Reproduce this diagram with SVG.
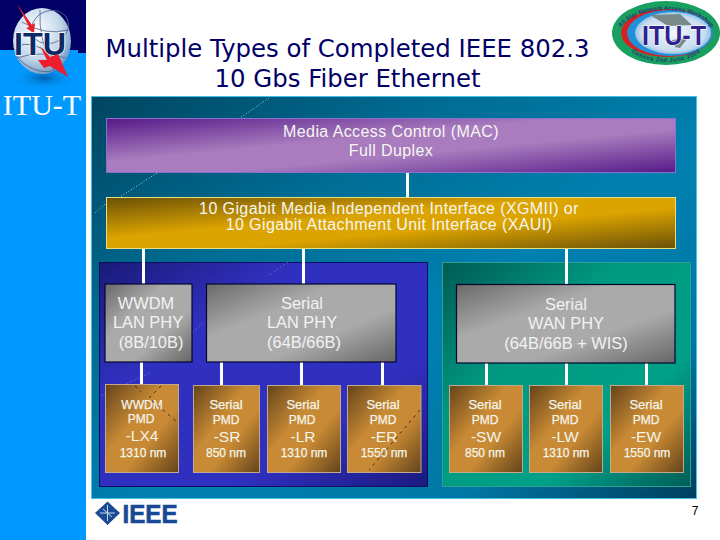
<svg xmlns="http://www.w3.org/2000/svg" width="720" height="540" viewBox="0 0 720 540">
<defs>
<linearGradient id="gPanel" x1="0" y1="0" x2="1" y2="1"><stop offset="0" stop-color="#004560"/><stop offset="0.3" stop-color="#006d94"/><stop offset="0.55" stop-color="#0080b0"/><stop offset="0.8" stop-color="#0078a6"/><stop offset="1" stop-color="#003e5c"/></linearGradient>
<linearGradient id="gMac" x1="0" y1="0" x2="1" y2="1"><stop offset="0" stop-color="#551a88"/><stop offset="0.4" stop-color="#a87cbe"/><stop offset="0.6" stop-color="#a87cbe"/><stop offset="1" stop-color="#551a88"/></linearGradient>
<linearGradient id="gXg" x1="0" y1="0" x2="1" y2="1"><stop offset="0" stop-color="#6a5008"/><stop offset="0.4" stop-color="#dca400"/><stop offset="0.6" stop-color="#dca400"/><stop offset="1" stop-color="#6a5008"/></linearGradient>
<linearGradient id="gBlue" x1="0" y1="0" x2="1" y2="1"><stop offset="0" stop-color="#1a1a78"/><stop offset="0.3" stop-color="#3030c0"/><stop offset="0.7" stop-color="#3030c0"/><stop offset="1" stop-color="#1a1a80"/></linearGradient>
<linearGradient id="gGreen" x1="0" y1="0" x2="1" y2="1"><stop offset="0" stop-color="#005a55"/><stop offset="0.35" stop-color="#009880"/><stop offset="0.7" stop-color="#00a088"/><stop offset="1" stop-color="#005e58"/></linearGradient>
<linearGradient id="gGrey" x1="0" y1="0" x2="1" y2="1"><stop offset="0" stop-color="#6a6a6a"/><stop offset="0.35" stop-color="#aaaaaa"/><stop offset="0.65" stop-color="#aaaaaa"/><stop offset="1" stop-color="#666666"/></linearGradient>
<linearGradient id="gPmd" x1="0" y1="0" x2="1" y2="1"><stop offset="0" stop-color="#64431a"/><stop offset="0.4" stop-color="#c88a34"/><stop offset="0.62" stop-color="#c88a34"/><stop offset="1" stop-color="#64431a"/></linearGradient>
<radialGradient id="gGlobe" cx="0.4" cy="0.35" r="0.7"><stop offset="0" stop-color="#ffffff"/><stop offset="0.6" stop-color="#c4d8ec"/><stop offset="1" stop-color="#6f94bd"/></radialGradient>
<radialGradient id="gShadow" cx="0.5" cy="0.5" r="0.5"><stop offset="0" stop-color="#00508c" stop-opacity="0.75"/><stop offset="1" stop-color="#0099ff" stop-opacity="0"/></radialGradient>
<radialGradient id="gIn" cx="0.5" cy="0.5" r="0.6"><stop offset="0" stop-color="#f0f6fc"/><stop offset="0.7" stop-color="#c8dcf0"/><stop offset="1" stop-color="#4a9ed8"/></radialGradient>
<path id="arcTop" d="M 618 37 A 48 27 0 0 1 714 37"/>
<path id="arcBot" d="M 622 36 A 44 26 0 0 0 710 36"/>
</defs>
<style>
text{font-family:"Liberation Sans",Arial,sans-serif;fill:#f4f4ea;text-anchor:middle}
.title{font-family:"DejaVu Sans",sans-serif;font-size:24.400px;fill:#000066}
.h{font-size:16px;letter-spacing:.4px;fill:#f6f6f2}
.phy{font-size:16.400px;fill:#f2f2f2}
.pa{font-size:13px;stroke:#f4f4ea;stroke-width:.25}
.pw{font-size:12px;stroke:#f4f4ea;stroke-width:.25}
.pb{font-size:15.500px}
.pc{font-size:12px;stroke:#f4f4ea;stroke-width:.25}
.pmd{fill:url(#gPmd);stroke:#c4a88e;stroke-width:1}
.grey{fill:url(#gGrey);stroke:#050530;stroke-width:1.2}
.link{stroke:#fff;stroke-width:3;fill:none}
.dots{stroke:#d8eef8;stroke-width:.8;stroke-dasharray:1 2;fill:none}
.dk{stroke:#301030;stroke-width:.8;stroke-dasharray:3 4;fill:none}
</style>
<rect width="720" height="540" fill="#ffffff"/>
<g id="sidebar">
<rect x="0" y="0" width="86" height="540" fill="#0099ff"/>
<rect x="0" y="0" width="86" height="50" fill="#000066"/>
<rect x="78" y="50" width="8" height="3" fill="#000066"/>
<ellipse cx="44" cy="78" rx="32" ry="12" fill="url(#gShadow)"/>
<g id="itu-logo">
<ellipse cx="42" cy="41" rx="29" ry="33" fill="url(#gGlobe)"/>
<g fill="none" stroke="#50688c" stroke-width=".8"><ellipse cx="50" cy="27" rx="19" ry="16" transform="rotate(-25 50 27)"/><ellipse cx="36" cy="58" rx="22" ry="11" transform="rotate(25 36 58)"/><path d="M22 22Q45 36 68 30M40 10Q38 40 55 72M17 58Q40 50 66 58"/></g>
<path d="M17 4L32 25L35 23L34 33L26 28L29 27Z" fill="#e8202c"/>
<text x="40" y="55" style="font-weight:700;font-size:32px;fill:#0b2a66;stroke:#ffffff;stroke-width:1.500;paint-order:stroke" textLength="52" lengthAdjust="spacingAndGlyphs">ITU</text>
<path d="M40 46L50 57L58 54L68 77L50 66L44 68L38 60L47 60Z" fill="#ee1c2c"/>
</g>
<text x="42" y="115" style="font-family:'Liberation Serif',serif;font-size:30px;fill:#ffffff">ITU-T</text>
</g>
<g id="title">
<text class="title" x="347.500" y="57">Multiple Types of Completed IEEE 802.3</text>
<text class="title" x="347.500" y="87">10 Gbs Fiber Ethernet</text>
</g>
<g id="badge">
<ellipse cx="666" cy="33" rx="54" ry="32" fill="#18a060"/>
<ellipse cx="667" cy="33" rx="46" ry="24" fill="#d82020"/>
<ellipse cx="670" cy="33" rx="43" ry="23" fill="#2090d8"/>
<ellipse cx="673" cy="33" rx="38" ry="21" fill="url(#gIn)"/>
<path d="M650 15L680 14L692 25L668 26ZM672 40L688 38L680 48L675 47Z" fill="#7a8a88"/>
<text x="674" y="45" style="font-weight:700;font-size:28px;fill:#302090;stroke:#ffffff;stroke-width:1.200;paint-order:stroke" textLength="64" lengthAdjust="spacingAndGlyphs">ITU-T</text>
<text style="font-size:6px;font-weight:700;fill:#2a3a70"><textPath href="#arcTop" startOffset="50%">All Star Network Access Workshop</textPath></text>
<text style="font-size:6px;font-weight:700;fill:#2a3a70" letter-spacing=".4"><textPath href="#arcBot" startOffset="50%">Geneva 2nd June 2004</textPath></text>
</g>
<g id="backplane">
<rect x="91.500" y="96.500" width="605" height="402" fill="url(#gPanel)" stroke="#40c0e8" stroke-width="1"/>
<path class="dots" d="M269 98L240 118M157 173L120 197M105 204L94 214"/>
</g>
<g id="panel-lan"><rect x="99.500" y="262.500" width="328" height="224" fill="url(#gBlue)" stroke="#0c0c60" stroke-width="1"/><path d="M288 262L268 276M203 323L190 334M150 373L100 396" stroke="#5c78dc" stroke-width=".7" stroke-dasharray="2 2" fill="none"/></g>
<g id="panel-wan"><rect x="442.500" y="262.500" width="248" height="224" fill="url(#gGreen)" stroke="#30a090" stroke-width="1"/></g>
<g id="connectors">
<path class="link" d="M407.500 173V197M143.500 248V284M303.500 248V284M566.500 248V284M141.500 362V384M221.500 362V385M301.500 362V385M382.500 362V385M486.500 363V385M566.500 363V385M646.500 363V385"/>
</g>
<g id="mac"><rect x="106.500" y="118.500" width="569" height="54" fill="url(#gMac)" stroke="#8c70d0" stroke-width="1"/>
<text class="h" x="391" y="136.500">Media Access Control (MAC)</text><text class="h" x="391" y="155.500">Full Duplex</text></g>
<g id="xgmii"><rect x="106.500" y="197.500" width="569" height="51" fill="url(#gXg)" stroke="#e8e080" stroke-width="1"/>
<text class="h" x="389" y="213.500">10 Gigabit Media Independent Interface (XGMII) or</text><text class="h" x="389" y="229.500">10 Gigabit Attachment Unit Interface (XAUI)</text></g>
<g id="phy-wwdm"><rect class="grey" x="105" y="284" width="87" height="78"/><text class="phy" x="146" y="309">WWDM</text><text class="phy" x="148" y="328">LAN PHY</text><text class="phy" x="151" y="348">(8B/10B)</text></g>
<g id="phy-serial-lan"><rect class="grey" x="206.500" y="284" width="189.500" height="78"/><text class="phy" x="302" y="309">Serial</text><text class="phy" x="302" y="328">LAN PHY</text><text class="phy" x="304" y="348">(64B/66B)</text></g>
<g id="phy-serial-wan"><rect class="grey" x="456.500" y="284.500" width="218.500" height="78.500"/><text class="phy" x="566" y="310">Serial</text><text class="phy" x="566" y="329">WAN PHY</text><text class="phy" x="566" y="349">(64B/66B + WIS)</text></g>
<g id="pmd-lx4"><rect class="pmd" x="105.500" y="384.500" width="73" height="88"/><text class="pw" x="142" y="409">WWDM</text><text class="pw" x="141" y="423">PMD</text><text class="pb" x="142" y="441">-LX4</text><text class="pc" x="143" y="457">1310 nm</text><path class="dk" d="M161 386L149 398L177 422M135 386L141 392"/></g>
<g id="pmd-sr"><rect class="pmd" x="193.500" y="385.500" width="66" height="87"/><text class="pa" x="226" y="409">Serial</text><text class="pw" x="226" y="424">PMD</text><text class="pb" x="227" y="442">-SR</text><text class="pc" x="226" y="457">850 nm</text></g>
<g id="pmd-lr"><rect class="pmd" x="267.500" y="385.500" width="73" height="87"/><text class="pa" x="303" y="409">Serial</text><text class="pw" x="302" y="424">PMD</text><text class="pb" x="303" y="442">-LR</text><text class="pc" x="304" y="457">1310 nm</text></g>
<g id="pmd-er"><rect class="pmd" x="347.500" y="385.500" width="73.500" height="87"/><text class="pa" x="383" y="409">Serial</text><text class="pw" x="383" y="424">PMD</text><text class="pb" x="384" y="442">-ER</text><text class="pc" x="384" y="457">1550 nm</text><path class="dk" d="M420 410L369 470"/></g>
<g id="pmd-sw"><rect class="pmd" x="449.500" y="385.500" width="73" height="87"/><text class="pa" x="485" y="409">Serial</text><text class="pw" x="485" y="424">PMD</text><text class="pb" x="486" y="442">-SW</text><text class="pc" x="485" y="457">850 nm</text></g>
<g id="pmd-lw"><rect class="pmd" x="529.500" y="385.500" width="73" height="87"/><text class="pa" x="565" y="409">Serial</text><text class="pw" x="565" y="424">PMD</text><text class="pb" x="565" y="442">-LW</text><text class="pc" x="566" y="457">1310 nm</text></g>
<g id="pmd-ew"><rect class="pmd" x="610.500" y="385.500" width="73" height="87"/><text class="pa" x="646" y="409">Serial</text><text class="pw" x="646" y="424">PMD</text><text class="pb" x="646" y="442">-EW</text><text class="pc" x="647" y="457">1550 nm</text></g>
<g id="ieee">
<path d="M107.500 501.500L120 513L107.500 525L95 513Z" fill="#1a4a94"/>
<path d="M107.500 505V521M100 513H115M103 509L112 517" stroke="#c8d8ee" stroke-width="1" fill="none"/>
<text x="150" y="523" style="font-weight:700;font-size:26px;fill:#174a94;stroke:#174a94;stroke-width:.6" textLength="55" lengthAdjust="spacingAndGlyphs">IEEE</text>
</g>
<text x="695" y="515" style="font-size:12px;fill:#000000">7</text>
</svg>
